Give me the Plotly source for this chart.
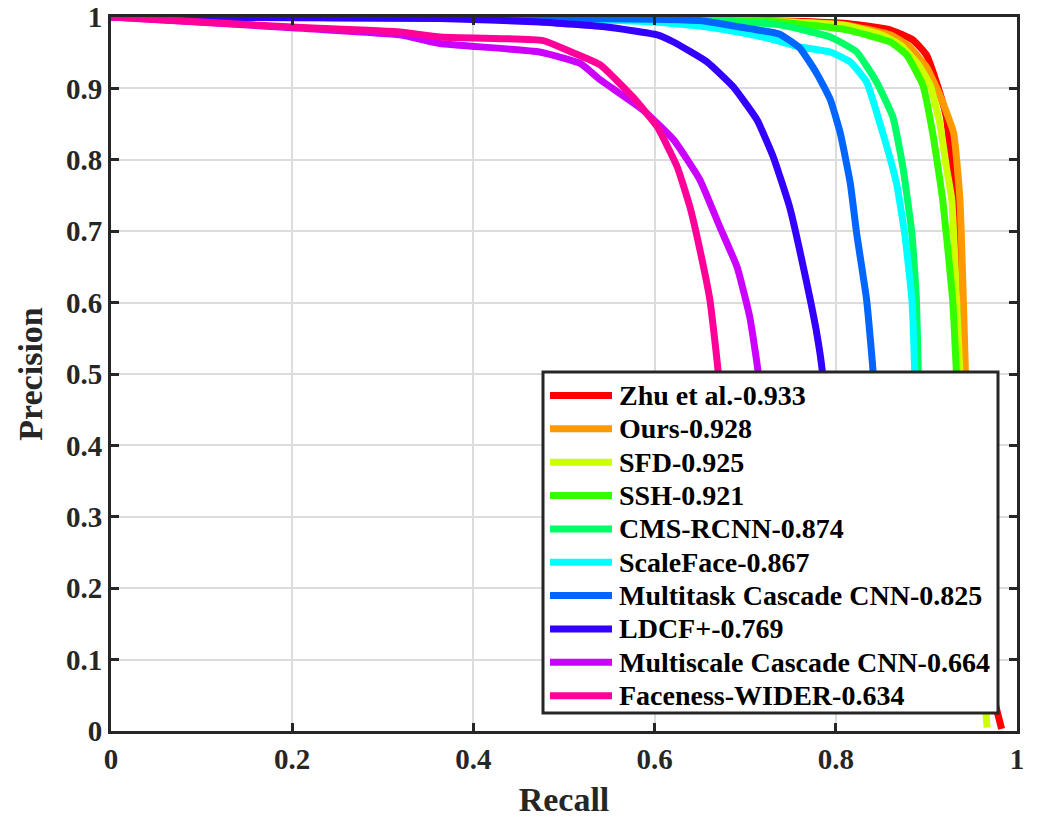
import plotly.graph_objects as go

# ---- data ----
names = ["Zhu et al.-0.933", "Ours-0.928", "SFD-0.925", "SSH-0.921", "CMS-RCNN-0.874",
         "ScaleFace-0.867", "Multitask Cascade CNN-0.825", "LDCF+-0.769",
         "Multiscale Cascade CNN-0.664", "Faceness-WIDER-0.634"]
colors = ["#ff0000", "#ff9900", "#ccff00", "#33ff00", "#00ff66",
          "#00ffff", "#0066ff", "#3300ff", "#cc00ff", "#ff0099"]

zhu_recall = [0, 0.3, 0.5, 0.65, 0.75, 0.812, 0.86, 0.885, 0.90, 0.912, 0.922, 0.932, 0.935, 0.94, 0.95, 0.962, 0.972, 0.983]
zhu_prec = [1, 0.999, 0.998, 0.996, 0.994, 0.991, 0.982, 0.968, 0.947, 0.905, 0.86, 0.72, 0.627, 0.5, 0.35, 0.18, 0.06, 0.003]

ours_recall = [0, 0.3, 0.5, 0.65, 0.75, 0.81, 0.86, 0.88, 0.90, 0.915, 0.93, 0.937, 0.943, 0.947, 0.95]
ours_prec = [1, 0.999, 0.998, 0.996, 0.993, 0.989, 0.975, 0.96, 0.93, 0.89, 0.838, 0.744, 0.505, 0.3, 0.1]

sfd_recall = [0, 0.3, 0.5, 0.65, 0.75, 0.81, 0.85, 0.871, 0.89, 0.904, 0.915, 0.922, 0.928, 0.937, 0.945, 0.955, 0.967]
sfd_prec = [1, 0.999, 0.998, 0.996, 0.993, 0.988, 0.975, 0.961, 0.935, 0.905, 0.85, 0.79, 0.744, 0.505, 0.4, 0.2, 0.005]

ssh_recall = [0, 0.3, 0.5, 0.65, 0.738, 0.812, 0.86, 0.878, 0.896, 0.907, 0.918, 0.929, 0.933, 0.94, 0.945]
ssh_prec = [1, 0.999, 0.998, 0.996, 0.993, 0.982, 0.965, 0.947, 0.905, 0.837, 0.744, 0.604, 0.505, 0.3, 0.1]

cms_recall = [0, 0.3, 0.5, 0.65, 0.738, 0.794, 0.823, 0.845, 0.863, 0.874, 0.884, 0.889, 0.891, 0.895, 0.9]
cms_prec = [1, 0.999, 0.998, 0.995, 0.989, 0.972, 0.951, 0.909, 0.86, 0.79, 0.697, 0.604, 0.505, 0.3, 0.1]

scaleface_recall = [0, 0.3, 0.5, 0.6, 0.658, 0.7, 0.738, 0.76, 0.794, 0.816, 0.834, 0.852, 0.867, 0.876, 0.884, 0.887, 0.89, 0.895]
scaleface_prec = [1, 0.999, 0.997, 0.993, 0.986, 0.977, 0.966, 0.958, 0.951, 0.937, 0.909, 0.837, 0.767, 0.697, 0.604, 0.505, 0.3, 0.1]

multitask_recall = [0, 0.3, 0.5, 0.6, 0.65, 0.694, 0.738, 0.76, 0.779, 0.794, 0.805, 0.816, 0.823, 0.834, 0.841, 0.848, 0.855]
multitask_prec = [1, 0.999, 0.998, 0.997, 0.995, 0.986, 0.976, 0.957, 0.921, 0.884, 0.837, 0.767, 0.697, 0.604, 0.505, 0.3, 0.1]

ldcf_recall = [0, 0.2, 0.363, 0.473, 0.547, 0.603, 0.621, 0.658, 0.687, 0.713, 0.731, 0.749, 0.768, 0.779, 0.785, 0.795, 0.805]
ldcf_prec = [1, 0.999, 0.998, 0.993, 0.986, 0.975, 0.965, 0.937, 0.902, 0.856, 0.804, 0.734, 0.627, 0.557, 0.505, 0.3, 0.1]

multiscale_recall = [0, 0.2, 0.319, 0.363, 0.473, 0.518, 0.54, 0.587, 0.621, 0.65, 0.672, 0.691, 0.705, 0.714, 0.725, 0.735]
multiscale_prec = [1, 0.985, 0.975, 0.963, 0.951, 0.935, 0.912, 0.87, 0.828, 0.772, 0.706, 0.65, 0.58, 0.505, 0.3, 0.1]

faceness_recall = [0, 0.2, 0.319, 0.363, 0.477, 0.51, 0.54, 0.576, 0.603, 0.625, 0.639, 0.65, 0.661, 0.67, 0.68, 0.69]
faceness_prec = [1, 0.986, 0.979, 0.972, 0.967, 0.95, 0.933, 0.888, 0.846, 0.79, 0.734, 0.674, 0.604, 0.505, 0.3, 0.1]

recalls = [zhu_recall, ours_recall, sfd_recall, ssh_recall, cms_recall,
           scaleface_recall, multitask_recall, ldcf_recall, multiscale_recall, faceness_recall]
precisions = [zhu_prec, ours_prec, sfd_prec, ssh_prec, cms_prec,
              scaleface_prec, multitask_prec, ldcf_prec, multiscale_prec, faceness_prec]

x_ticks = [0, 0.2, 0.4, 0.6, 0.8, 1]
x_ticktext = ["0", "0.2", "0.4", "0.6", "0.8", "1"]
y_ticks = [0, 0.1, 0.2, 0.3, 0.4, 0.5, 0.6, 0.7, 0.8, 0.9, 1]
y_ticktext = ["0", "0.1", "0.2", "0.3", "0.4", "0.5", "0.6", "0.7", "0.8", "0.9", "1"]

FONT = "Liberation Serif, Times New Roman, serif"
AXC = "#262626"

W, H = 1051, 828
ML, MR, MT, MB = 111, 34, 17, 97
PW, PH = W - ML - MR, H - MT - MB


def px_x(p):  # pixel -> paper x
    return (p - ML) / PW


def px_y(p):  # pixel -> paper y
    return (H - MB - p) / PH


fig = go.Figure()
for n, c, xs, ys in zip(names, colors, recalls, precisions):
    fig.add_trace(go.Scatter(x=xs, y=ys, mode="lines", name=n, showlegend=False,
                             line=dict(color=c, width=7, shape="spline", smoothing=0.4)))

# ---- legend box (MATLAB style), drawn as shapes + text ----
LEG_L, LEG_R, LEG_T, LEG_B = 543, 998, 372, 713
ROW0, ROW_H = 395.5, 33.35
KEY_X0, KEY_X1, TXT_X = 550, 612, 617

shapes = [dict(type="rect", xref="paper", yref="paper", layer="above",
               x0=px_x(LEG_L), x1=px_x(LEG_R), y0=px_y(LEG_B), y1=px_y(LEG_T),
               fillcolor="white", line=dict(color=AXC, width=3))]
annotations = []
for i, (n, c) in enumerate(zip(names, colors)):
    yy = px_y(ROW0 + i * ROW_H)
    shapes.append(dict(type="line", xref="paper", yref="paper", layer="above",
                       x0=px_x(KEY_X0), x1=px_x(KEY_X1), y0=yy, y1=yy,
                       line=dict(color=c, width=7)))
    annotations.append(dict(text=n, xref="paper", yref="paper", x=px_x(TXT_X), y=yy,
                            xanchor="left", yanchor="middle", showarrow=False,
                            font=dict(family=FONT, size=28, color="black", weight="bold")))

axis_common = dict(
    range=[0, 1], showline=True, linewidth=3, linecolor=AXC, mirror="ticks",
    ticks="inside", ticklen=8, tickwidth=3, tickcolor=AXC, automargin=False,
    showgrid=True, gridcolor="#dcdcdc", gridwidth=2, zeroline=False,
    tickfont=dict(family=FONT, size=29, color=AXC, weight="bold"),
)

fig.update_layout(
    width=W, height=H,
    margin=dict(l=ML, r=MR, t=MT, b=MB),
    paper_bgcolor="white", plot_bgcolor="white",
    xaxis=dict(**axis_common, tickvals=x_ticks, ticktext=x_ticktext,
               title=dict(text="Recall", standoff=14,
                          font=dict(family=FONT, size=34, color=AXC, weight="bold"))),
    yaxis=dict(**axis_common, tickvals=y_ticks, ticktext=y_ticktext,
               title=dict(text="Precision", standoff=14,
                          font=dict(family=FONT, size=34, color=AXC, weight="bold"))),
    shapes=shapes, annotations=annotations,
    showlegend=False,
)

fig.write_html("out.html")
